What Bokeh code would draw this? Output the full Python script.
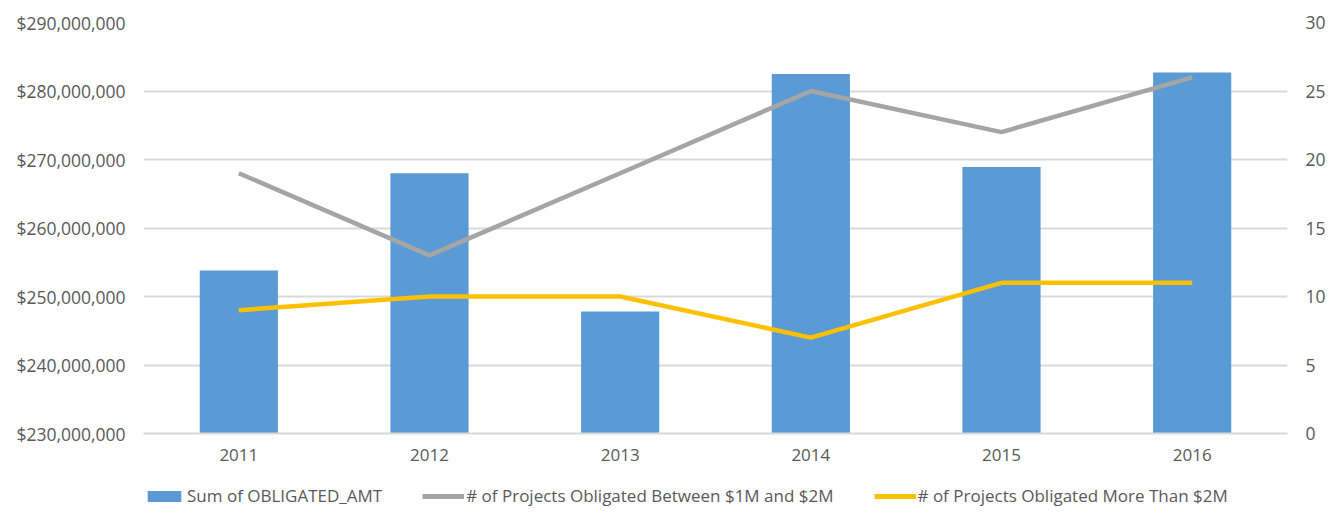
from bokeh.plotting import figure
from bokeh.layouts import column
from bokeh.models import (FactorRange, Range1d, LinearAxis, FixedTicker, NumeralTickFormatter,
                          Legend, LegendItem, ColumnDataSource)
from bokeh.embed import file_html
from bokeh.resources import INLINE

years = ["2011", "2012", "2013", "2014", "2015", "2016"]
obligated_amt = [253800000, 268000000, 247800000, 282500000, 268900000, 282700000]
projects_1m_2m = [19, 13, 19, 25, 22, 26]
projects_over_2m = [9, 10, 10, 7, 11, 11]
series_names = ["Sum of OBLIGATED_AMT",
                "# of Projects Obligated Between $1M and $2M",
                "# of Projects Obligated More Than $2M"]

FONT = "Open Sans"
TXT = "#595959"
FS = "17px"
BLUE, GRAY, GOLD = "#5b9bd5", "#a5a5a5", "#ffc000"

src = ColumnDataSource(dict(year=years, amt=obligated_amt,
                            p12=projects_1m_2m, p2=projects_over_2m))

p = figure(x_range=FactorRange(*years), y_range=Range1d(230000000, 290000000),
           frame_width=1144, frame_height=411, output_backend="svg",
           toolbar_location=None, min_border_left=143, min_border_right=40,
           min_border_top=22, min_border_bottom=50)
p.extra_y_ranges = {"count": Range1d(0, 30)}

p.vbar(x="year", top="amt", bottom=230000000, width=0.41, source=src,
       fill_color=BLUE, line_color=None)
p.line(x="year", y="p12", source=src, y_range_name="count",
       line_color=GRAY, line_width=4.5, line_join="round")
p.line(x="year", y="p2", source=src, y_range_name="count",
       line_color=GOLD, line_width=4.5, line_join="round")

p.outline_line_color = None
p.xgrid.grid_line_color = None
p.ygrid.grid_line_color = "#d9d9d9"
p.ygrid.grid_line_width = 2
p.ygrid.ticker = FixedTicker(ticks=list(range(230000000, 290000001, 10000000)))

ly = p.yaxis[0]
ly.ticker = FixedTicker(ticks=list(range(230000000, 290000001, 10000000)))
ly.formatter = NumeralTickFormatter(format="$0,0")
ly.axis_line_color = None
ly.major_tick_line_color = None
ly.minor_tick_line_color = None
ly.major_label_standoff = 12
ly.major_label_text_font = FONT
ly.major_label_text_font_size = "17.5px"
ly.major_label_text_color = TXT

ry = LinearAxis(y_range_name="count", ticker=FixedTicker(ticks=[0, 5, 10, 15, 20, 25, 30]))
ry.axis_line_color = None
ry.major_tick_line_color = None
ry.minor_tick_line_color = None
ry.major_label_standoff = 12
ry.major_label_text_font = FONT
ry.major_label_text_font_size = "17.5px"
ry.major_label_text_color = TXT
p.add_layout(ry, "right")

xa = p.xaxis[0]
xa.axis_line_color = "#d9d9d9"
xa.axis_line_width = 2
xa.major_tick_line_color = None
xa.minor_tick_line_color = None
xa.major_label_standoff = 9
xa.major_label_text_font = FONT
xa.major_label_text_font_size = FS
xa.major_label_text_color = TXT

# legend strip below the chart (legend-only glyphs kept outside its visible range)
lf = figure(width=1327, height=30, x_range=Range1d(0, 1), y_range=Range1d(0, 1),
            output_backend="svg", toolbar_location=None, x_axis_type=None,
            y_axis_type=None, min_border=0, outline_line_color=None)
lf.xgrid.visible = False
lf.ygrid.visible = False
rb = lf.vbar(x=[-5], top=[-5], bottom=-6, width=0.5, fill_color=BLUE, line_color=None)
rg = lf.line(x=[-6, -5], y=[-5, -5], line_color=GRAY, line_width=5)
ryl = lf.line(x=[-6, -5], y=[-5, -5], line_color=GOLD, line_width=5)

legend = Legend(items=[
    LegendItem(label=series_names[0], renderers=[rb]),
    LegendItem(label=series_names[1], renderers=[rg]),
    LegendItem(label=series_names[2], renderers=[ryl]),
], orientation="horizontal", location=(0, 6), spacing=40,
   glyph_width=42, glyph_height=14, label_standoff=2,
   label_text_font=FONT, label_text_font_size=FS, label_text_color=TXT,
   border_line_color=None, background_fill_alpha=0, padding=0, margin=0)
lf.add_layout(legend, "center")

layout = column(p, lf, spacing=0)
open("out.html", "w").write(file_html(layout, INLINE))
